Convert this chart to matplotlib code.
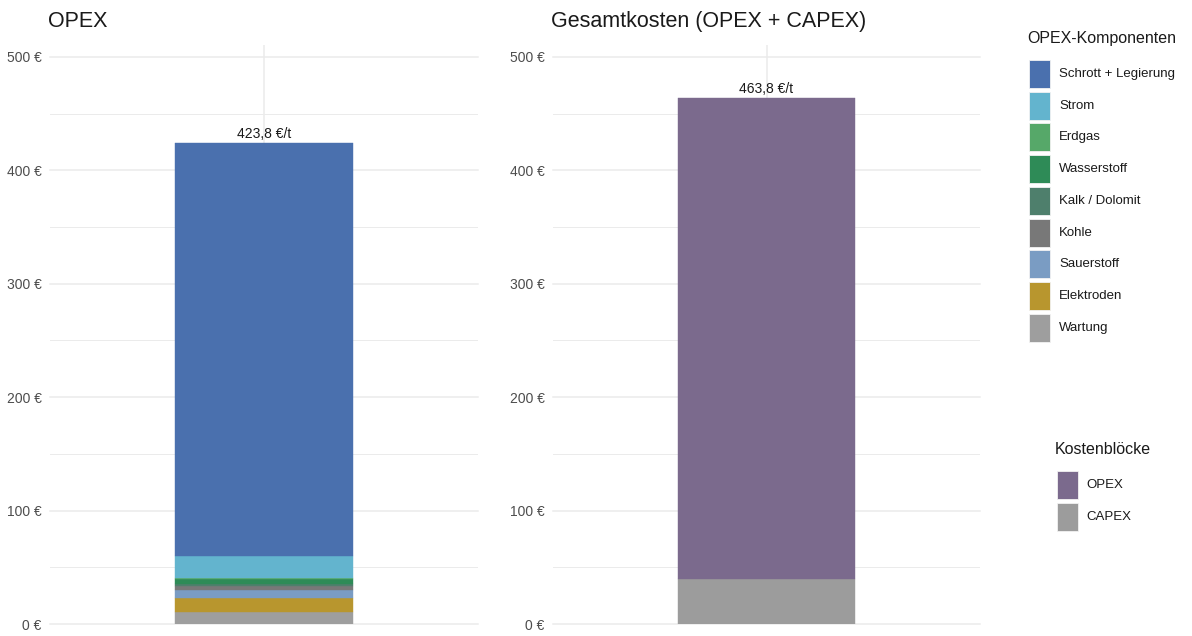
#!/usr/bin/env python3
"""Kostenstruktur je Tonne Stahl: OPEX-Aufschlüsselung und Gesamtkosten."""

import matplotlib.pyplot as plt
from matplotlib.patches import Rectangle
from matplotlib.ticker import FuncFormatter, MultipleLocator

plt.rcParams["font.family"] = ["Liberation Sans", "DejaVu Sans"]

# OPEX-Komponenten in €/t (von unten nach oben gestapelt)
opex_labels = ["Schrott + Legierung", "Strom", "Erdgas", "Wasserstoff",
               "Kalk / Dolomit", "Kohle", "Sauerstoff", "Elektroden", "Wartung"]
opex_values = [363.6, 20.0, 0.5, 4.5, 1.8, 3.5, 7.4, 12.3, 10.2]
opex_colors = ["#4A70AE", "#63B4CE", "#56A869", "#2E8B57", "#4E7F6C",
               "#787878", "#7A9CC3", "#B8962E", "#9E9E9E"]

# Kostenblöcke in €/t
block_labels = ["OPEX", "CAPEX"]
block_values = [423.8, 40.0]
block_colors = ["#7B6A8D", "#9C9C9C"]

GRID = "#EBEBEB"
YMAX = 510.5


def euro_fmt(v, _pos):
    return f"{v:.0f} €"


def style_axis(ax, title):
    ax.set_xlim(0.4, 1.6)
    ax.set_ylim(0, YMAX)
    ax.yaxis.set_major_locator(MultipleLocator(100))
    ax.yaxis.set_minor_locator(MultipleLocator(50))
    ax.yaxis.set_major_formatter(FuncFormatter(euro_fmt))
    ax.set_xticks([1])
    ax.set_xticklabels([])
    ax.tick_params(axis="both", which="both", length=0)
    ax.tick_params(axis="y", labelsize=10, labelcolor="#4D4D4D", pad=6)
    ax.grid(True, which="major", color=GRID, linewidth=1.1)
    ax.grid(True, which="minor", axis="y", color=GRID, linewidth=0.7)
    ax.set_axisbelow(True)
    for s in ax.spines.values():
        s.set_visible(False)
    for line in ax.get_ygridlines():
        line.set_clip_on(False)
    ax.set_title(title, loc="left", fontsize=15.5, color="#1A1A1A", x=-0.005, pad=13)


def draw_stack(ax, order, values, colors):
    # Erste Komponente oben, letzte unten
    bottom = 0.0
    for i in reversed(order):
        ax.bar(1, values[i], width=0.5, bottom=bottom, color=colors[i],
               edgecolor=colors[i], linewidth=0.3)
        bottom += values[i]
    ax.text(1, bottom + 2, f"{bottom:.1f} €/t".replace(".", ","),
            ha="center", va="bottom", fontsize=10, color="#1A1A1A")


def draw_legend(fig, title, labels, colors, title_xy, key_x, key_y0, step, label_x):
    W, H = fig.get_size_inches() * fig.dpi
    fig.text(title_xy[0] / W, 1 - title_xy[1] / H, title, fontsize=11.5,
             color="#1A1A1A", ha="left", va="center")
    for k, (lab, col) in enumerate(zip(labels, colors)):
        y = key_y0 + k * step
        fig.add_artist(Rectangle((key_x / W, 1 - (y + 14) / H), 21 / W, 28 / H,
                                 transform=fig.transFigure, facecolor=col,
                                 edgecolor="#F2F2F2", linewidth=0.6))
        fig.text(label_x / W, 1 - y / H, lab, fontsize=9.5, color="#1A1A1A",
                 ha="left", va="center")


def main():
    fig = plt.figure(figsize=(11.92, 6.36), dpi=100)
    W, H = 1192, 636
    bottom = 12 / H
    height = 579 / H
    ax1 = fig.add_axes([50 / W, bottom, 428 / W, height])
    ax2 = fig.add_axes([553 / W, bottom, 427 / W, height])

    style_axis(ax1, "OPEX")
    style_axis(ax2, "Gesamtkosten (OPEX + CAPEX)")

    draw_stack(ax1, range(len(opex_values)), opex_values, opex_colors)
    draw_stack(ax2, range(len(block_values)), block_values, block_colors)

    draw_legend(fig, "OPEX-Komponenten", opex_labels, opex_colors,
                (1027, 38), 1029, 74, 31.7, 1059)
    draw_legend(fig, "Kostenblöcke", block_labels, block_colors,
                (1055, 450), 1057, 485, 31.5, 1086)

    fig.savefig("out.png", dpi=100, facecolor="white")
    plt.close(fig)


if __name__ == "__main__":
    main()
